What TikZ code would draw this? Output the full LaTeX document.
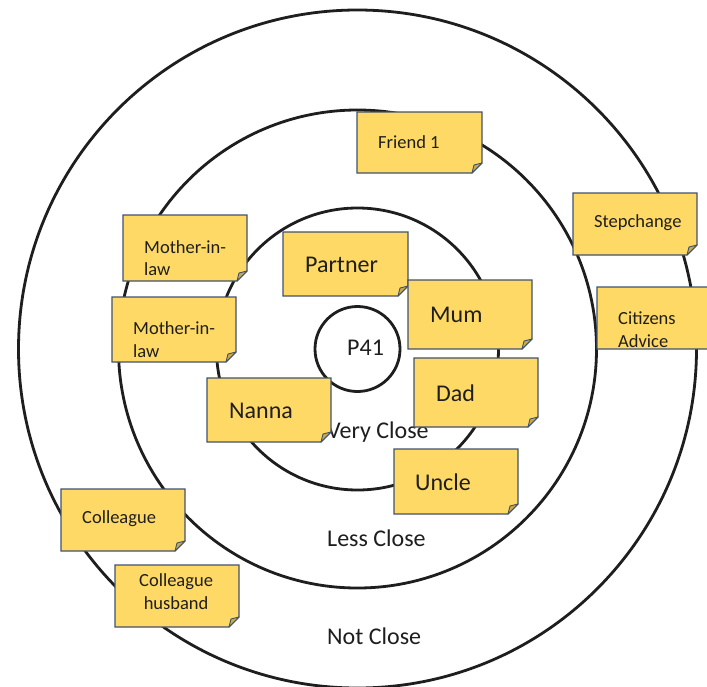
\documentclass[tikz,border=0pt]{standalone}
\usepackage{fontspec}
\setmainfont{Carlito}

\definecolor{notefill}{HTML}{FFD966}
\definecolor{noteedge}{HTML}{42536E}
\definecolor{notefold}{HTML}{C9A94C}
\definecolor{ink}{HTML}{1E1E1E}

\tikzset{
  ring/.style={draw=ink, line width=2.8pt},
  notebody/.style={fill=notefill, draw=noteedge, line width=1.2pt, line join=miter},
  foldflap/.style={fill=notefold, draw=noteedge, line width=0.9pt, line join=round},
  smalltext/.style={font=\fontsize{18.5}{22.5}\selectfont, text=ink, inner sep=0pt, anchor=west, align=left},
  bigtext/.style={font=\fontsize{24}{28}\selectfont, text=ink, inner sep=0pt, anchor=west},
  zonelabel/.style={font=\fontsize{24}{28}\selectfont, text=ink, inner sep=0pt, anchor=west},
}

% sticky note paper with a folded bottom-right corner: x1,y1,x2,y2
\newcommand\notepaper[4]{%
  \filldraw[notebody] (#1,#2) -- (#3,#2) -- (#3,#4-10) -- (#3-10,#4) -- (#1,#4) -- cycle;
  \filldraw[foldflap] (#3,#4-10) -- (#3-10,#4) -- (#3-8,#4-8) -- cycle;
}

\begin{document}
\begin{tikzpicture}[x=1pt, y=-1pt]
  \useasboundingbox[fill=white] (0,0) rectangle (707,686);

  % concentric closeness rings
  \coordinate (centre) at (357.5,349);
  \draw[ring] (centre) circle[radius=339pt];
  \draw[ring] (centre) circle[radius=239pt];
  \draw[ring] (centre) circle[radius=141pt];
  \node[circle, draw=ink, line width=2.8pt, minimum size=85pt, inner sep=0pt] (self) at (centre) {};
  \node[bigtext] (selflabel) at (347,348) {P41};

  % ring labels
  \node[zonelabel] (lvery) at (327,432) {Very Close};
  \node[zonelabel] (lless) at (327,538) {Less Close};
  \node[zonelabel] (lnot)  at (327,636) {Not Close};

  % sticky notes
  \notepaper{357}{112}{482}{173}
  \node[smalltext] (friend) at (378,142.5) {Friend 1};

  \notepaper{123}{215}{247}{281}
  \node[smalltext] (mil1) at (144,258) {Mother-in-\\law};

  \notepaper{112}{297}{236}{362}
  \node[smalltext] (mil2) at (133,339.5) {Mother-in-\\law};

  \notepaper{283}{232}{408}{296}
  \node[bigtext] (partner) at (305,265) {Partner};

  \notepaper{408}{280}{532}{349}
  \node[bigtext] (mum) at (430,315) {Mum};

  \notepaper{414}{358}{538}{427}
  \node[bigtext] (dad) at (436,393) {Dad};

  \notepaper{207}{378}{331}{442}
  \node[bigtext] (nanna) at (229,411) {Nanna};

  \notepaper{394}{449}{518}{514}
  \node[bigtext] (uncle) at (415,482) {Uncle};

  \notepaper{573}{193}{697}{255}
  \node[smalltext] (stepchange) at (594,223) {Stepchange};

  \notepaper{597}{287}{722}{349}
  \node[smalltext] (citizens) at (618,329.5) {Citizens\\Advice};

  \notepaper{61}{489}{185}{551}
  \node[smalltext] (colleague) at (82,519) {Colleague};

  \notepaper{115}{565}{239}{627}
  \node[smalltext, align=center] (colhusband) at (139,591.5) {Colleague\\husband};
\end{tikzpicture}
\end{document}
